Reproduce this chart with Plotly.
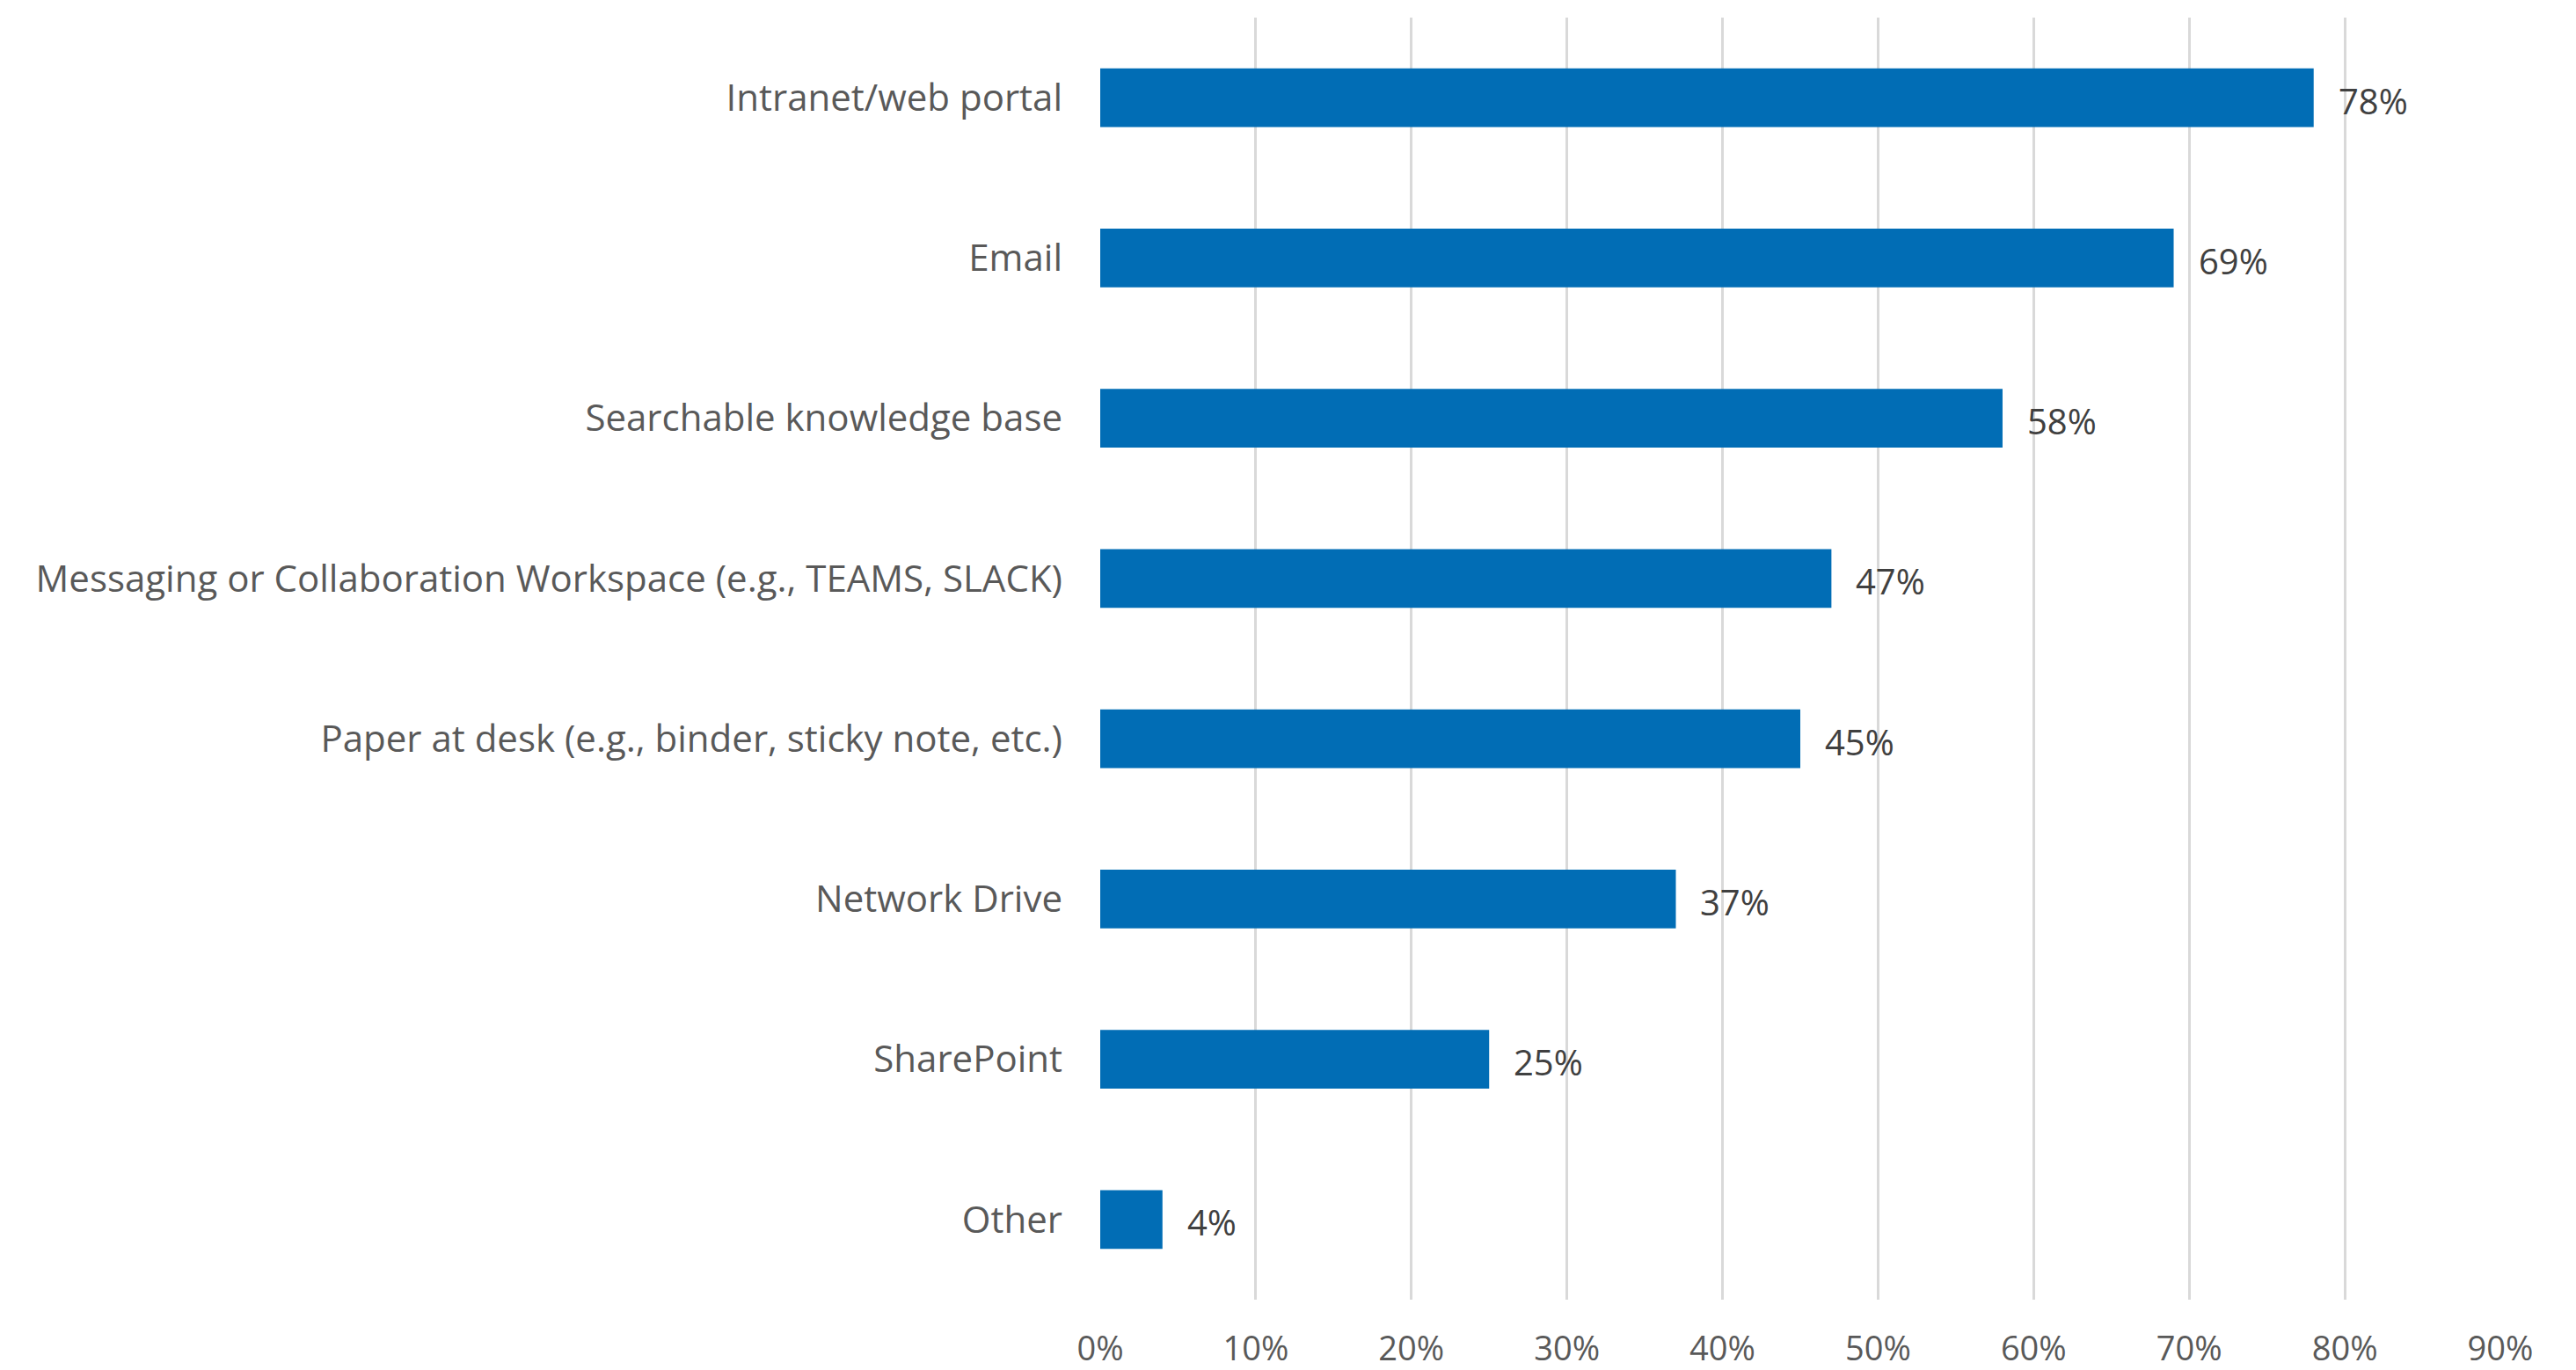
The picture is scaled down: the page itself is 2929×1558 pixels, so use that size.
import plotly.graph_objects as go

# Survey: where employees look for work information
categories = [
    "Intranet/web portal",
    "Email",
    "Searchable knowledge base",
    "Messaging or Collaboration Workspace (e.g., TEAMS, SLACK)",
    "Paper at desk (e.g., binder, sticky note, etc.)",
    "Network Drive",
    "SharePoint",
    "Other",
]
shares = [0.78, 0.69, 0.58, 0.47, 0.45, 0.37, 0.25, 0.04]
tick_values = [0, 0.1, 0.2, 0.3, 0.4, 0.5, 0.6, 0.7, 0.8, 0.9]
tick_labels = ["0%", "10%", "20%", "30%", "40%", "50%", "60%", "70%", "80%", "90%"]

BAR_COLOR = "#016DB5"
TEXT_COLOR = "#595959"
FONT = "Open Sans"

fig = go.Figure()
fig.add_trace(
    go.Bar(
        x=shares,
        y=categories,
        orientation="h",
        marker=dict(color=BAR_COLOR, line=dict(width=0)),
        hoverinfo="skip",
    )
)

# value labels just past each bar end
for cat, val in zip(categories, shares):
    fig.add_annotation(
        x=val,
        y=cat,
        text=f"{round(val * 100)}%",
        showarrow=False,
        xanchor="left",
        yanchor="middle",
        xshift=26,
        yshift=-3,
        font=dict(family=FONT, size=40, color="#404040"),
    )

fig.update_layout(
    width=2929,
    height=1558,
    margin=dict(l=1251, r=86, t=20, b=80, autoexpand=False),
    paper_bgcolor="white",
    plot_bgcolor="white",
    bargap=0.635,
    showlegend=False,
    font=dict(family=FONT, size=40, color=TEXT_COLOR),
)
fig.update_xaxes(
    range=[0, 0.9],
    tickvals=tick_values,
    ticktext=tick_labels,
    showgrid=True,
    gridcolor="#D9D9D9",
    gridwidth=3,
    zeroline=False,
    showline=False,
    ticks="",
    automargin=False,
    ticklabelstandoff=30,
    tickfont=dict(family=FONT, size=38, color=TEXT_COLOR),
    fixedrange=True,
)
fig.update_yaxes(
    categoryorder="array",
    categoryarray=categories[::-1],
    showgrid=False,
    zeroline=False,
    showline=False,
    ticks="",
    automargin=False,
    ticklabelstandoff=42,
    tickfont=dict(family=FONT, size=42, color=TEXT_COLOR),
    fixedrange=True,
)

fig.write_html("out.html")
